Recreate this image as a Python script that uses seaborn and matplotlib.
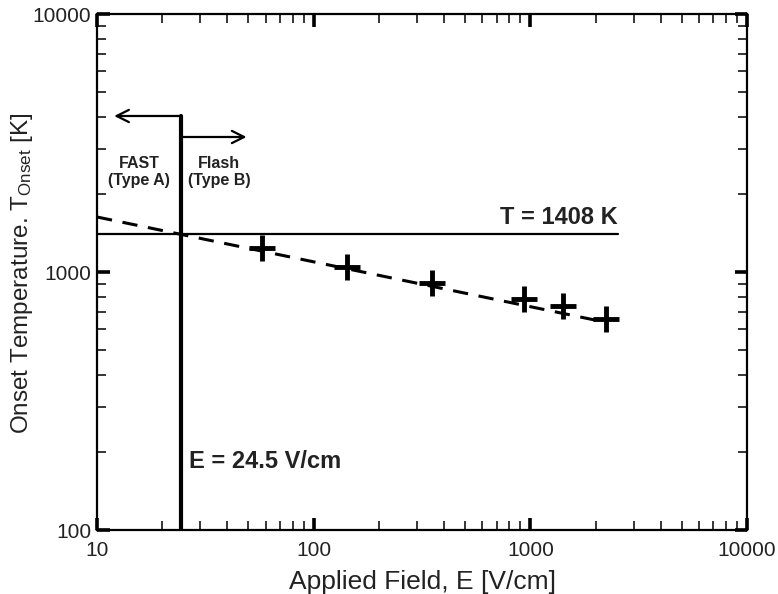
import numpy as np
import pandas as pd
import matplotlib
matplotlib.use("Agg")
import matplotlib.pyplot as plt
import seaborn as sns

# Data
field = [58, 143, 351, 934, 1413, 2232]            # V/cm
t_onset = [1239, 1045, 906, 785, 738, 658]         # K
fit_x = [10, 2200]
fit_y = [1634, 640]
t_crit = 1408
t_line_x = [10, 2540]
e_crit = 24.5
e_line_y = [100, 4025]
arrow_left = (12, 4025)
arrow_right = (49, 3337)
x_ticks = [10, 100, 1000, 10000]
y_ticks = [100, 1000, 10000]

sns.set_theme(style="white")
plt.rcParams['font.family'] = ['Liberation Sans', 'DejaVu Sans']
plt.rcParams['mathtext.default'] = 'regular'

fig = plt.figure(figsize=(7.78, 5.94), dpi=100)
ax = fig.add_axes([0.1247, 0.1077, 0.8355, 0.8687])

df = pd.DataFrame({"E": field, "T": t_onset})
fit = pd.DataFrame({"E": fit_x, "T": fit_y})

sns.lineplot(data=fit, x="E", y="T", ax=ax, color="black", lw=2.2,
             linestyle=(0, (5, 3.5)))
sns.scatterplot(data=df, x="E", y="T", ax=ax, marker="+", s=340,
                color="black", linewidth=3.5, zorder=5)

ax.plot(t_line_x, [t_crit, t_crit], color="black", lw=1.6)
ax.plot([e_crit, e_crit], e_line_y, color="black", lw=3)

ax.annotate("", xy=(arrow_left[0], arrow_left[1]), xytext=(e_crit, arrow_left[1]),
            arrowprops=dict(arrowstyle="->", color="black", lw=1.6,
                            mutation_scale=22, shrinkA=0, shrinkB=0))
ax.annotate("", xy=(arrow_right[0], arrow_right[1]), xytext=(e_crit, arrow_right[1]),
            arrowprops=dict(arrowstyle="->", color="black", lw=1.6,
                            mutation_scale=22, shrinkA=0, shrinkB=0))

ax.text(2540, 1465, "T = 1408 K", ha="right", va="bottom", fontsize=17,
        fontweight="bold", color="#222222")
ax.text(26.5, 184, "E = 24.5 V/cm", ha="left", va="center", fontsize=17,
        fontweight="bold", color="#222222")
ax.text(15.6, 2450, "FAST\n(Type A)", ha="center", va="center", fontsize=11.5,
        fontweight="bold", linespacing=1.15, color="#222222")
ax.text(36.5, 2450, "Flash\n(Type B)", ha="center", va="center", fontsize=11.5,
        fontweight="bold", linespacing=1.15, color="#222222")

ax.set_xscale("log")
ax.set_yscale("log")
ax.set_xlim(10, 10000)
ax.set_ylim(100, 10000)
ax.set_xticks(x_ticks)
ax.set_xticklabels([str(v) for v in x_ticks])
ax.set_yticks(y_ticks)
ax.set_yticklabels([str(v) for v in y_ticks])
ax.xaxis.set_minor_locator(matplotlib.ticker.LogLocator(base=10, subs=np.arange(2, 10)))
ax.yaxis.set_minor_locator(matplotlib.ticker.LogLocator(base=10, subs=np.arange(2, 10)))
ax.xaxis.set_minor_formatter(matplotlib.ticker.NullFormatter())
ax.yaxis.set_minor_formatter(matplotlib.ticker.NullFormatter())

ax.tick_params(which="both", direction="in", top=True, right=True,
               bottom=True, left=True, colors="black")
ax.tick_params(which="major", length=9, width=2.6, labelsize=15, pad=4)
ax.tick_params(axis="x", which="major", pad=8)
ax.tick_params(which="minor", length=6.5, width=1.1)
for lab in ax.get_xticklabels() + ax.get_yticklabels():
    lab.set_color("#222222")
for s in ax.spines.values():
    s.set_color("black")
    s.set_linewidth(1.6)

ax.set_xlabel("Applied Field, E [V/cm]", fontsize=19, color="#222222", labelpad=7)
ax.set_ylabel(r"Onset Temperature. T$_{Onset}$ [K]", fontsize=17.5,
              color="#222222", va="center")
ax.yaxis.set_label_coords(-0.1154, 0.497)

fig.savefig("out.png", dpi=100)
